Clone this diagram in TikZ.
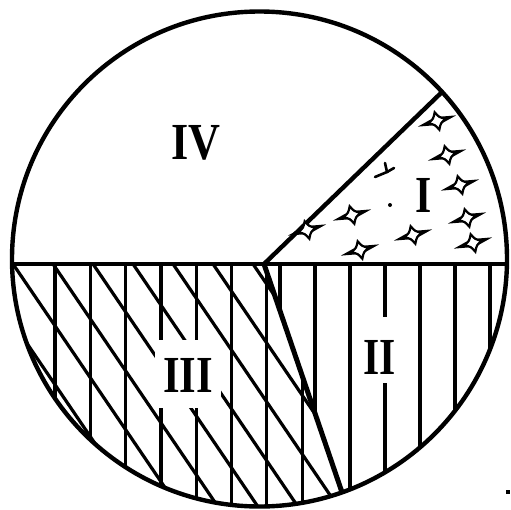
\documentclass[tikz,border=0pt]{standalone}
\usepackage{fontspec}
\setmainfont{Liberation Serif}
\begin{document}
\begin{tikzpicture}[x=1pt,y=-1pt,
  outline/.style={line width=4.4pt,line join=round},
  hatch/.style={line width=3.2pt},
  gapbox/.style={fill=white,draw=none,inner sep=0pt},
  lab/.style={font=\bfseries\fontsize{52}{52}\selectfont,inner sep=0pt},
  sparkle/.pic={
    \fill[black] (-20,0.5) -- (-6,-3) -- (6,-3) -- (20,-0.5) -- (6,3) -- (-6,3) -- cycle;
    \draw[line width=2.2pt,fill=white,line join=miter]
      (9,0) .. controls (3,-3) .. (0,-9) .. controls (-3,-3) .. (-9,0)
      .. controls (-3,3) .. (0,9) .. controls (3,3) .. (9,0) -- cycle;
  }]
\useasboundingbox (0,0) rectangle (511,509);
% key points
\coordinate (O) at (259.5,259);
\coordinate (L) at (12,264);
\coordinate (R) at (507,264);
\coordinate (P) at (264,264);
\coordinate (Q) at (442,92);
\coordinate (B) at (342,492.3);
% region III hatching
\begin{scope}
  \clip (O) circle (247.5);
  \clip (-10,264) -- (P) -- (351.5,520) -- (-10,520) -- cycle;
  \foreach \x in {55,90.3,125.6,160.9,196.2,231.5,266.8,302.1}
    \draw[hatch] (\x,250) -- (\x,520);
  \foreach \k in {-9,...,8}
    \draw[hatch] ({13+40*\k-9.5},250) -- ({13+40*\k+174},520);
\end{scope}
% region II hatching
\begin{scope}
  \clip (O) circle (247.5);
  \clip (P) -- (520,264) -- (520,520) -- (351.5,520) -- cycle;
  \foreach \x in {280,315,350,385,420,455,490}
    \draw[hatch] (\x,250) -- (\x,520);
\end{scope}
% gaps behind labels
\node[gapbox,minimum width=66pt,minimum height=68pt] (g3) at (188,374) {};
\node[gapbox,minimum width=44pt,minimum height=66pt] (g2) at (382,350) {};
% outlines
\draw[outline] (O) circle (247.5);
\draw[outline] (L) -- (R);
\draw[outline] (P) -- (Q);
\draw[line width=5pt] (P) -- (B);
% sparkles in region I
\foreach \px/\py in {437/121,447/155,460/185,352/215,467/218,307/230,413/235,360/250,473/243}
  \pic[rotate=15] at (\px,\py) {sparkle};
% small marks
\draw[line width=2.6pt,line cap=round] (375,177) -- (387,172) -- (385,163);
\draw[line width=2.6pt,line cap=round] (387,172) -- (394,168);
\fill (390,205) circle (2);
\fill (506,490) rectangle (510,494);
% labels
\node[lab] (IV) at (196,143) {\scalebox{0.85}[1]{IV}};
\node[lab] (I) at (424,195) {\scalebox{0.8}[1]{I}};
\node[lab] (II) at (380,357) {\scalebox{0.8}[1]{II}};
\node[lab] (III) at (188,375) {\scalebox{0.82}[1]{III}};
\end{tikzpicture}
\end{document}
